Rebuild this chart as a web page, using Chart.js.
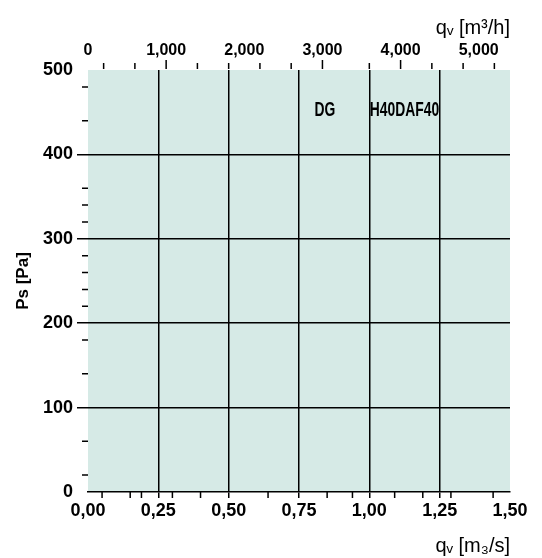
<!DOCTYPE html>
<html>
<head>
<meta charset="utf-8">
<script src="https://cdn.jsdelivr.net/npm/chart.js@4.4.1/dist/chart.umd.min.js"></script>
<style>
  html, body { margin: 0; padding: 0; background: #fff; }
  canvas { display: block; }
</style>
</head>
<body>
<canvas id="chart" width="542" height="558"></canvas>
<script>
// bottom axis: air flow in m3/s
const xTicks = [0, 0.25, 0.5, 0.75, 1.0, 1.25, 1.5];
const xTickLabels = ['0,00', '0,25', '0,50', '0,75', '1,00', '1,25', '1,50'];
const xMinorTicks = [0.05, 0.15, 0.19, 0.3, 0.4, 0.64, 0.85, 0.94, 1.09, 1.19, 1.29, 1.44];
// top axis: air flow in m3/h
const topTicks = [0, 1000, 2000, 3000, 4000, 5000];
const topTickLabels = ['0', '1,000', '2,000', '3,000', '4,000', '5,000'];
const topMajorTicks = [1000, 3000, 4000];
const topMinorTicks = [200, 600, 1400, 1800, 2200, 2600, 3600, 4400, 4800, 5200];
// left axis: static pressure in Pa
const yTicks = [0, 100, 200, 300, 400, 500];
const yTickLabels = ['0', '100', '200', '300', '400', '500'];
const yMinorTicks = [480, 440, 360, 340, 320, 280, 260, 240, 220, 180, 140, 60, 20];
// curve names (only the labels are shown)
const curveNames = ['DG', 'H40DAF40'];
const curveFlow = [0.842, 1.125];
const curvePressure = [452, 452];

const FONT = '"Liberation Sans", Arial, sans-serif';
const hideEnds = (ctx, ends, color) => ends.includes(ctx.tick.value) ? 'rgba(0,0,0,0)' : color;

const plotBg = {
  id: 'plotBg',
  beforeDraw(chart) {
    const { ctx, chartArea: a } = chart;
    ctx.save();
    ctx.fillStyle = '#d6eae6';
    ctx.fillRect(a.left, a.top, a.right - a.left, a.bottom - a.top);
    ctx.restore();
  }
};

const minorTicks = {
  id: 'minorTicks',
  afterDraw(chart) {
    const ctx = chart.ctx;
    const { x, x2, y } = chart.scales;
    ctx.save();
    ctx.strokeStyle = '#000';
    ctx.lineWidth = 1.5;
    ctx.beginPath();
    yMinorTicks.forEach(v => {
      const p = y.getPixelForValue(v);
      ctx.moveTo(y.right - 6, p); ctx.lineTo(y.right, p);
    });
    xMinorTicks.forEach(v => {
      const p = x.getPixelForValue(v);
      ctx.moveTo(p, x.top); ctx.lineTo(p, x.top + 6);
    });
    topMinorTicks.forEach(v => {
      const p = x2.getPixelForValue(v);
      ctx.moveTo(p, x2.bottom - 7); ctx.lineTo(p, x2.bottom - 1);
    });
    topMajorTicks.forEach(v => {
      const p = x2.getPixelForValue(v);
      ctx.moveTo(p, x2.bottom - 10); ctx.lineTo(p, x2.bottom - 1);
    });
    ctx.stroke();
    ctx.restore();
  }
};

const curveLabels = {
  id: 'curveLabels',
  afterDatasetsDraw(chart) {
    const meta = chart.getDatasetMeta(0);
    const ctx = chart.ctx;
    ctx.save();
    ctx.font = 'bold 21px ' + FONT;
    ctx.fillStyle = '#000';
    ctx.textAlign = 'center';
    ctx.textBaseline = 'middle';
    meta.data.forEach((pt, i) => {
      ctx.save();
      ctx.translate(pt.x, pt.y);
      ctx.scale(0.66, 1);
      ctx.fillText(curveNames[i], 0, 0);
      ctx.restore();
    });
    ctx.restore();
  }
};

new Chart(document.getElementById('chart'), {
  type: 'scatter',
  data: {
    datasets: [{
      data: curveNames.map((n, i) => ({ x: curveFlow[i], y: curvePressure[i] })),
      pointRadius: 0
    }]
  },
  options: {
    responsive: false,
    animation: false,
    layout: { padding: { right: 32 } },
    plugins: { legend: { display: false }, tooltip: { enabled: false } },
    scales: {
      x: {
        type: 'linear', position: 'bottom', min: 0, max: 1.5,
        afterBuildTicks: s => { s.ticks = xTicks.map(v => ({ value: v })); },
        afterFit: s => { s.height = 66; },
        ticks: {
          callback: (v, i) => xTickLabels[i],
          color: '#000', font: { family: FONT, size: 18, weight: 'bold' },
          maxRotation: 0, autoSkip: false, padding: 2
        },
        grid: {
          color: c => hideEnds(c, [0, 1.5], '#000'),
          tickColor: c => hideEnds(c, [0, 1.5], '#000'),
          lineWidth: 1.5, tickLength: 6
        },
        border: { display: true, color: '#000', width: 1.5 },
        title: {
          display: true, text: 'q\u1d65 [m\u2083/s]', align: 'end',
          color: '#000', font: { family: FONT, size: 20 }, padding: { bottom: 0 }
        }
      },
      x2: {
        type: 'linear', position: 'top', min: 0, max: 5400,
        afterBuildTicks: s => { s.ticks = topTicks.map(v => ({ value: v })); },
        afterFit: s => { s.height = 70; },
        ticks: {
          callback: (v, i) => topTickLabels[i],
          color: '#000', font: { family: FONT, size: 16, weight: 'bold' },
          maxRotation: 0, autoSkip: false, padding: 10
        },
        grid: { drawOnChartArea: false, drawTicks: false },
        border: { display: false },
        title: {
          display: true, text: 'q\u1d65 [m\u00b3/h]', align: 'end',
          color: '#000', font: { family: FONT, size: 20 }, padding: { top: 16 }
        }
      },
      y: {
        type: 'linear', position: 'left', min: 0, max: 500,
        afterBuildTicks: s => { s.ticks = yTicks.map(v => ({ value: v })); },
        afterFit: s => { s.width = 88; },
        ticks: {
          callback: (v, i) => yTickLabels[i],
          color: '#000', font: { family: FONT, size: 18, weight: 'bold' },
          padding: 4
        },
        grid: {
          color: c => hideEnds(c, [0, 500], '#000'),
          tickColor: c => hideEnds(c, [0, 500], '#000'),
          lineWidth: 1.5, tickLength: 11
        },
        border: { display: false },
        title: {
          display: true, text: 'Ps [Pa]',
          color: '#000', font: { family: FONT, size: 17, weight: 'bold' }, padding: { top: 13 }
        }
      }
    }
  },
  plugins: [plotBg, minorTicks, curveLabels]
});
</script>
</body>
</html>
